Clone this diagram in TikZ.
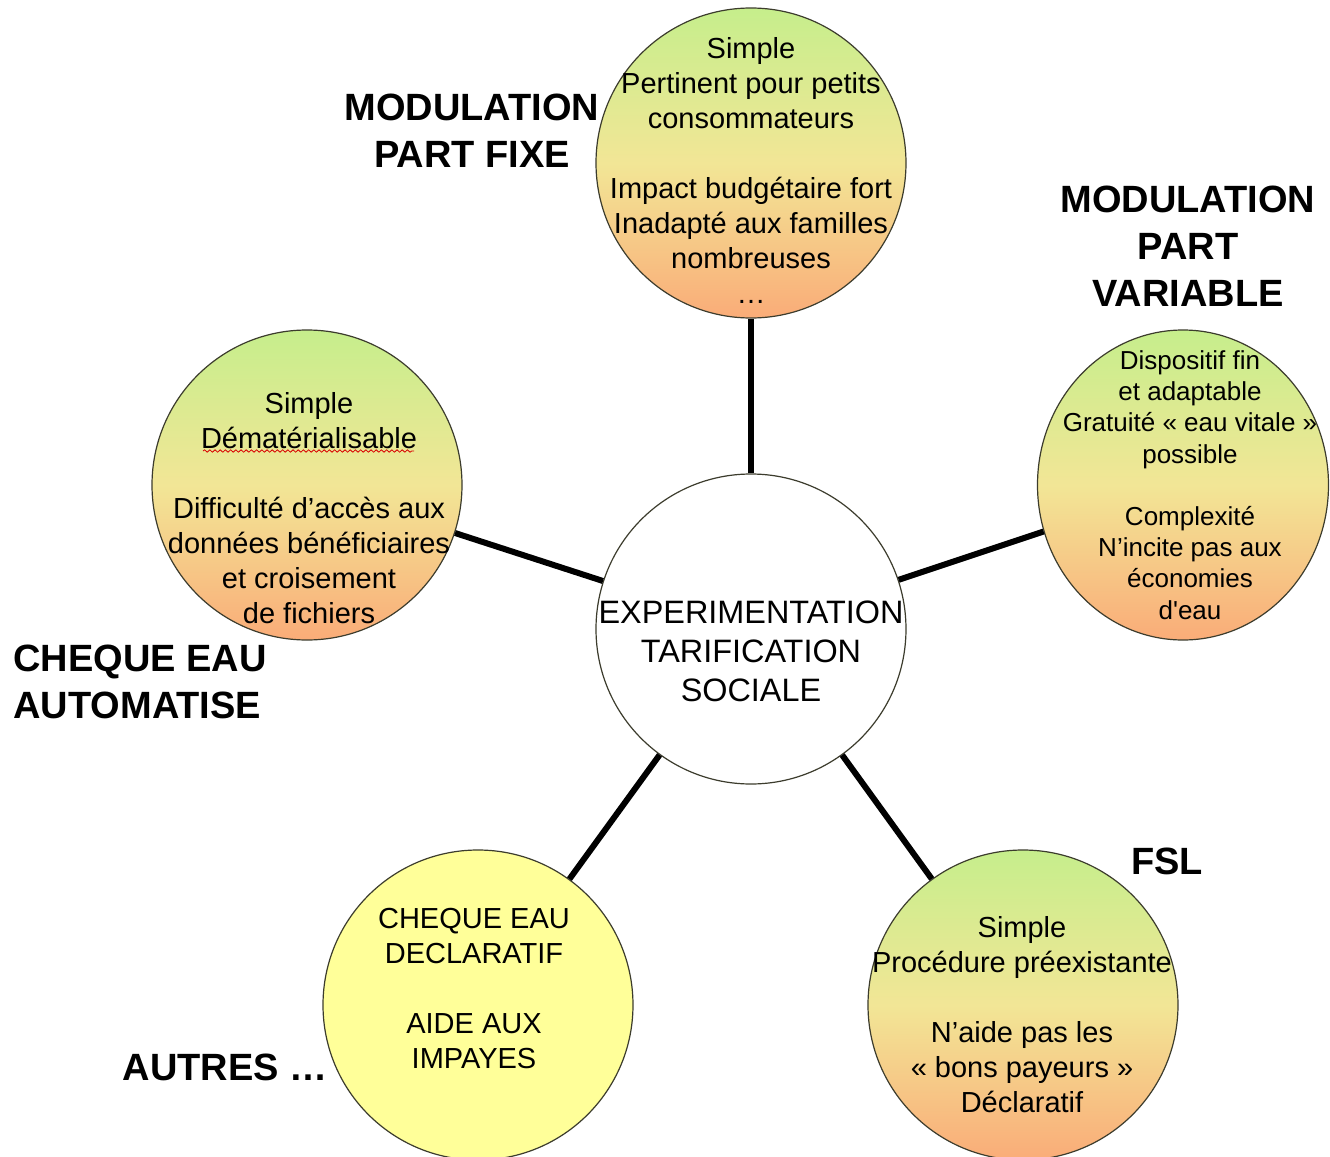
\documentclass[tikz,border=0pt]{standalone}
\usepackage{fontspec}
\setmainfont{Liberation Sans}
\usetikzlibrary{shapes.geometric,decorations.pathmorphing}

\definecolor{gtop}{RGB}{198,238,140}
\definecolor{gmid}{RGB}{242,230,150}
\definecolor{gbot}{RGB}{250,172,120}
\definecolor{pale}{RGB}{255,255,153}
\definecolor{rim}{RGB}{60,60,45}

\begin{document}
\begin{tikzpicture}[x=0.5pt,y=-0.5pt,
  bubble/.style={circle, draw=rim, line width=0.6pt, minimum size=155pt, inner sep=0pt,
                 top color=gtop, bottom color=gbot, middle color=gmid},
  plainbubble/.style={circle, draw=rim, line width=0.6pt, minimum size=155pt, inner sep=0pt},
  link/.style={line width=3pt, black},
  body/.style={align=center, inner sep=0pt, font=\fontsize{14.5}{17.5}\selectfont},
  smallbody/.style={align=center, inner sep=0pt, font=\fontsize{13}{15.6}\selectfont},
  hubtext/.style={align=center, inner sep=0pt, font=\fontsize{16.2}{19.5}\selectfont},
  heading/.style={align=center, inner sep=0pt, font=\fontsize{19}{23.5}\selectfont\bfseries}
]
% canvas
\fill[white] (0,0) rectangle (1330,1157);
\useasboundingbox (0,0) rectangle (1330,1157);

% bubbles
\node[plainbubble, fill=white] (hub) at (751,629) {};
\node[bubble] (fixe) at (751,163) {};
\node[bubble, ellipse, minimum width=145.5pt, minimum height=155pt] (variable) at (1183,485) {};
\node[bubble] (cheque) at (307,485) {};
\node[bubble] (fsl) at (1023,1005) {};
\node[plainbubble, fill=pale] (autres) at (478,1005) {};

% spokes
\draw[link] (hub) -- (fixe);
\draw[link] (hub) -- (variable);
\draw[link] (hub) -- (cheque);
\draw[link] (hub) -- (fsl);
\draw[link] (hub) -- (autres);

% bubble contents
\node[hubtext] (hub-t) at (751,651) {EXPERIMENTATION\\TARIFICATION\\SOCIALE};

\node[body] (fixe-t) at (751,170) {Simple\\Pertinent pour petits\\consommateurs\\[17.5pt]
  Impact budgétaire fort\\Inadapté aux familles\\nombreuses\\…};

\node[smallbody] (variable-t) at (1190,485) {Dispositif fin\\et adaptable\\Gratuité « eau vitale »\\possible\\[15.6pt]
  Complexité\\N’incite pas aux\\économies\\d\textquotesingle eau};

\node[body] (cheque-t) at (309,508) {Simple\\Dématérialisable\\[17.5pt]
  Difficulté d’accès aux\\données bénéficiaires\\et croisement\\de fichiers};
\draw[red!85!black, line width=0.4pt, decorate,
      decoration={snake, amplitude=0.6pt, segment length=2.6pt}] (203,451) -- (414,451);

\node[body] (fsl-t) at (1022,1015) {Simple\\Procédure préexistante\\[17.5pt]
  N’aide pas les\\« bons payeurs »\\Déclaratif};

\node[body] (autres-t) at (474,989) {CHEQUE EAU\\DECLARATIF\\[17.5pt]AIDE AUX\\IMPAYES};

% headings
\node[heading] (h-fixe) at (472,131) {MODULATION\\PART FIXE};
\node[heading] (h-variable) at (1188,246) {MODULATION\\PART\\VARIABLE};
\node[heading, align=left, anchor=west] (h-cheque) at (13,682) {CHEQUE EAU\\AUTOMATISE};
\node[heading] (h-fsl) at (1167,861) {FSL};
\node[heading] (h-autres) at (225,1067) {AUTRES …};
\end{tikzpicture}
\end{document}
